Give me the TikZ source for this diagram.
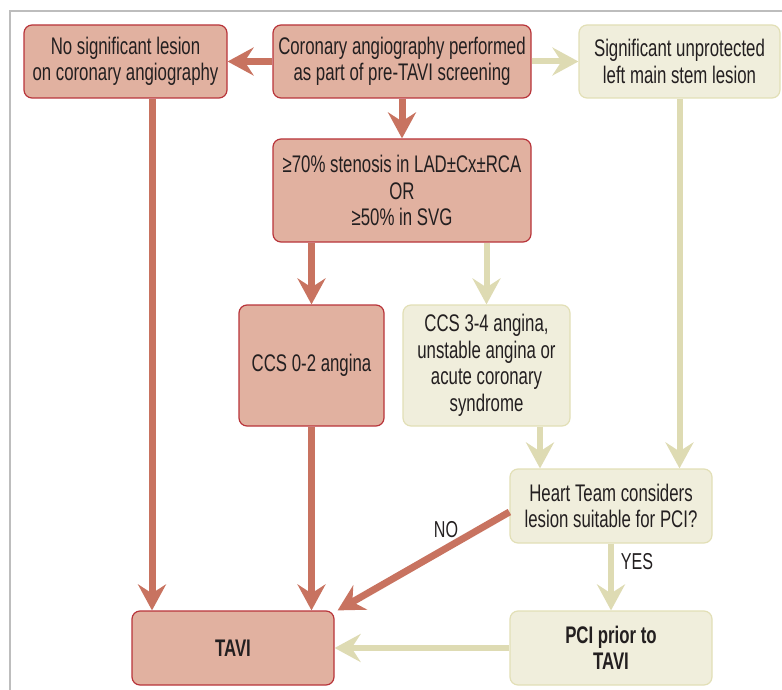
\documentclass[tikz,border=0pt]{standalone}
\usepackage{fontspec}
\setmainfont{Liberation Sans}[FakeStretch=0.70]
\usetikzlibrary{
    arrows.meta,
    positioning
}
\definecolor{redfill}{HTML}{E1B1A0}
\definecolor{redline}{HTML}{B8343A}
\definecolor{redflowcol}{HTML}{C87360}
\definecolor{beigefill}{HTML}{F0EEDC}
\definecolor{beigeline}{HTML}{E2DFB6}
\definecolor{beigeflowcol}{HTML}{DEDBB3}
\definecolor{textgray}{HTML}{231F20}
\definecolor{framegray}{HTML}{BDBDBD}

\begin{document}
\begin{tikzpicture}[
    x=1pt, y=-1pt,
    box/.style={
      rounded corners=8pt,
      align=center,
      text=textgray,
      inner sep=0pt,
      line width=1.2pt,
      font=\fontsize{24}{26.5}\selectfont
    },
    redbox/.style={box, draw=redline, fill=redfill},
    beigebox/.style={box, draw=beigeline, fill=beigefill},
    redflow/.style={
      draw=redflowcol,
      line width=7pt,
      -{Stealth[length=26pt, width=28pt, inset=9pt]}
    },
    beigeflow/.style={
      draw=beigeflowcol,
      line width=6pt,
      -{Stealth[length=26pt, width=28pt, inset=9pt]}
    },
    flowlabel/.style={text=textgray, font=\fontsize{23}{26}\selectfont}
  ]

  \useasboundingbox (0,0) rectangle (782,690);
  \draw[framegray, line width=1.5pt] (10,690) -- (10,11) -- (782,11);

  % top row {{{
  \node[redbox, minimum width=258pt, minimum height=73pt] (coro)
    at (402,61.5)
    {Coronary angiography performed\\as part of pre-TAVI screening};
  \node[redbox, minimum width=203pt, minimum height=73pt] (nosig)
    at (125.5,61.5)
    {No significant lesion\\on coronary angiography};
  \node[beigebox, minimum width=201pt, minimum height=73pt] (lmstem)
    at (679.5,61.5)
    {Significant unprotected\\left main stem lesion};
  % }}}

  % middle {{{
  \node[redbox, minimum width=258pt, minimum height=103pt] (stenosis)
    at (402,190.5)
    {≥70\% stenosis in LAD±Cx±RCA\\OR\\≥50\% in SVG};
  \node[redbox, minimum width=145pt, minimum height=121pt] (stable)
    at (311.5,365.5)
    {CCS 0-2 angina};
  \node[beigebox, minimum width=167pt, minimum height=121pt] (unstable)
    at (486.5,365.5)
    {CCS 3-4 angina,\\unstable angina or\\acute coronary\\syndrome};
  % }}}

  % bottom {{{
  \node[beigebox, minimum width=202pt, minimum height=74pt] (heart)
    at (611,506)
    {Heart Team considers\\lesion suitable for PCI?};
  \node[redbox, minimum width=202pt, minimum height=74pt,
    font=\fontsize{24}{26.5}\selectfont\bfseries] (tavi)
    at (233,648)
    {TAVI};
  \node[beigebox, minimum width=202pt, minimum height=74pt,
    font=\fontsize{24}{26.5}\selectfont\bfseries] (pci)
    at (611,648)
    {PCI prior to\\TAVI};
  % }}}

  % connectors {{{
  \draw[redflow] (coro.west) -- (nosig.east);
  \draw[beigeflow] (coro.east) -- (lmstem.west);
  \draw[redflow] (coro.south) -- (stenosis.north);
  \draw[redflow] (nosig.south -| 152,0) -- (tavi.north -| 152,0);
  \draw[redflow] (stenosis.south -| stable.north) -- (stable.north);
  \draw[beigeflow] (stenosis.south -| unstable.north) -- (unstable.north);
  \draw[redflow] (stable.south) -- (stable.south |- tavi.north);
  \draw[beigeflow] (unstable.south -| 540,0) -- (heart.north -| 540,0);
  \draw[beigeflow] (lmstem.south) -- (lmstem.south |- heart.north);
  \draw[redflow] (heart.west |- 0,512) -- ([xshift=3pt]tavi.north east);
  \draw[beigeflow] (heart.south) -- (pci.north);
  \draw[beigeflow] (pci.west) -- (tavi.east);
  % }}}

  \node[flowlabel] (nolabel) at (446,530) {NO};
  \node[flowlabel] (yeslabel) at (637,562) {YES};

\end{tikzpicture}
\end{document}
